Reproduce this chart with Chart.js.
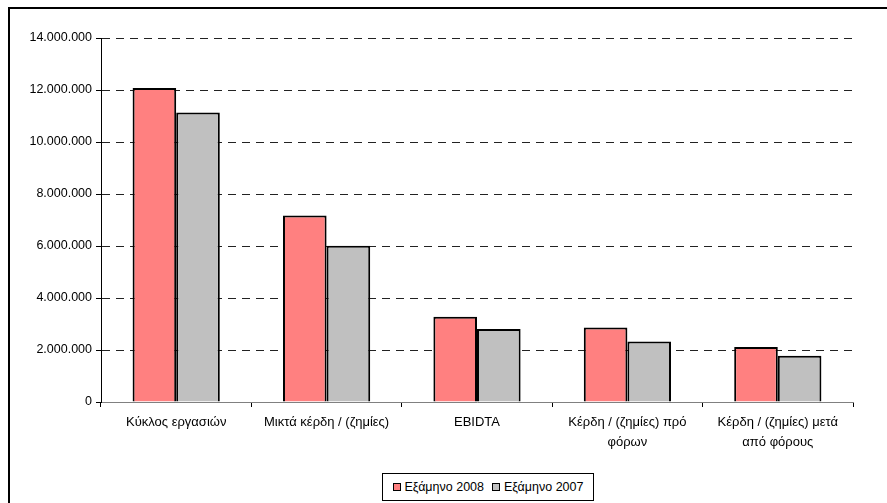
<!DOCTYPE html>
<html>
<head>
<meta charset="utf-8">
<script src="https://cdn.jsdelivr.net/npm/chart.js@4"></script>
<style>
  html, body { margin: 0; padding: 0; background: #fff; }
  #wrap { position: relative; width: 887px; height: 503px; overflow: hidden; }
  #frame { position: absolute; left: 8px; top: 7px; width: 900px; height: 520px;
           border-left: 2px solid #000; border-top: 2px solid #000; pointer-events: none; }
  #legend { position: absolute; left: 382px; top: 473px; width: 212px; height: 28px;
            border: 1px solid #000; box-sizing: border-box; background: #fff;
            font-family: "Liberation Sans", Arial, sans-serif; font-size: 12.5px; color: #000;
            display: flex; align-items: center; justify-content: center; gap: 8px; }
  .item { display: flex; align-items: center; }
  .mk { width: 6px; height: 6px; border: 1px solid #000; margin-right: 4px; }
</style>
</head>
<body>
<div id="wrap">
  <canvas id="c" width="887" height="503"></canvas>
  <div id="frame"></div>
  <div id="legend"></div>
</div>
<script>
const categories = [
  "Κύκλος εργασιών",
  "Μικτά κέρδη / (ζημίες)",
  "EBIDTA",
  ["Κέρδη / (ζημίες) πρό", "φόρων"],
  ["Κέρδη / (ζημίες) μετά", "από φόρους"]
];
const seriesNames = ["Εξάμηνο 2008", "Εξάμηνο 2007"];
const values2008 = [12080000, 7170000, 3280000, 2870000, 2120000];
const values2007 = [11130000, 6010000, 2810000, 2330000, 1780000];
const yMax = 14000000;
const yStep = 2000000;
const colors = ["#FF8080", "#C0C0C0"];

function fmt(v) {
  return String(Math.round(v)).replace(/\B(?=(\d{3})+(?!\d))/g, ".");
}

const fam = "'Liberation Sans', Arial, sans-serif";

const chart = new Chart(document.getElementById("c"), {
  type: "bar",
  data: {
    labels: categories,
    datasets: [
      { label: seriesNames[0], data: values2008, backgroundColor: colors[0], borderColor: "#000", borderWidth: 2 },
      { label: seriesNames[1], data: values2007, backgroundColor: colors[1], borderColor: "#000", borderWidth: 2 }
    ]
  },
  options: {
    responsive: false,
    animation: false,
    layout: { padding: { left: 0, top: 38, right: 34, bottom: 0 } },
    categoryPercentage: 0.58,
    barPercentage: 1.0,
    plugins: { legend: { display: false }, tooltip: { enabled: false } },
    scales: {
      x: {
        afterFit: s => { s.height = 101; },
        grid: { display: true, drawOnChartArea: false, drawTicks: true, tickLength: 5, color: "#000", tickColor: "#000", offset: true },
        border: { display: true, color: "#808080", width: 1 },
        ticks: { color: "#000", font: { family: fam, size: 13, lineHeight: 1.5 }, padding: 6, maxRotation: 0, autoSkip: false }
      },
      y: {
        min: 0, max: yMax,
        afterFit: s => { s.width = 101; },
        grid: {
          color: c => (c.tick && c.tick.value === 0) ? "rgba(0,0,0,0)" : "#222",
          tickColor: "#000",
          tickBorderDash: [],
          tickLength: 5,
          lineWidth: 1
        },
        border: { display: true, color: "#000", width: 1, dash: [8, 6] },
        ticks: { stepSize: yStep, color: "#000", font: { family: fam, size: 12.5 }, padding: 4, callback: v => fmt(v) }
      }
    }
  }
});

const lg = document.getElementById("legend");
chart.data.datasets.forEach(ds => {
  const it = document.createElement("div");
  it.className = "item";
  const mk = document.createElement("span");
  mk.className = "mk";
  mk.style.background = ds.backgroundColor;
  const tx = document.createElement("span");
  tx.textContent = ds.label;
  it.appendChild(mk); it.appendChild(tx);
  lg.appendChild(it);
});
</script>
</body>
</html>
